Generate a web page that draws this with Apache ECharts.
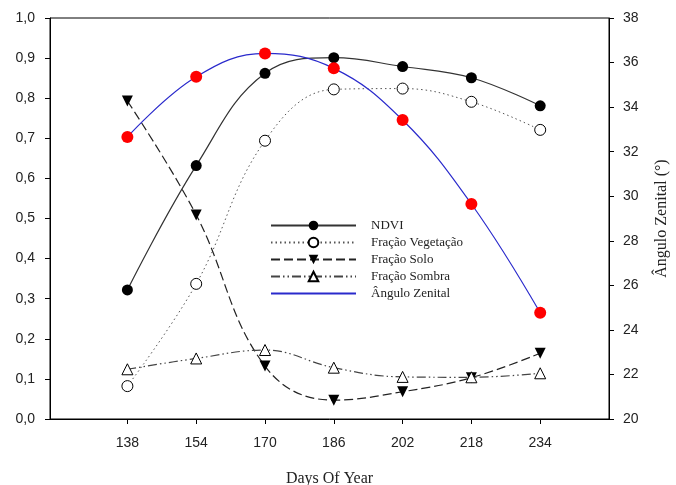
<!DOCTYPE html>
<html>
<head>
<meta charset="utf-8">
<script src="https://cdn.jsdelivr.net/npm/echarts@6/dist/echarts.min.js"></script>
<style>html,body{margin:0;padding:0;background:#fff}#c{width:676px;height:485px}</style>
</head>
<body>
<div id="c"></div>
<script>
var days = [138, 154, 170, 186, 202, 218, 234];
var ndvi = [0.322, 0.632, 0.862, 0.901, 0.879, 0.851, 0.781];
var fracVeg = [0.082, 0.337, 0.694, 0.822, 0.824, 0.791, 0.721];
var fracSolo = [0.793, 0.509, 0.132, 0.047, 0.068, 0.103, 0.164];
var fracSombra = [0.124, 0.151, 0.172, 0.128, 0.105, 0.104, 0.114];
var zenital = [32.66, 35.36, 36.41, 35.74, 33.42, 29.65, 24.77];
var leftTicks = [0, 0.1, 0.2, 0.3, 0.4, 0.5, 0.6, 0.7, 0.8, 0.9, 1.0];
var rightTicks = [20, 22, 24, 26, 28, 30, 32, 34, 36, 38];

function pairs(v) { return days.map(function (d, i) { return [d, v[i]]; }); }

var chart = echarts.init(document.getElementById('c'));
var labelFont = { fontFamily: 'Liberation Sans, Arial, sans-serif', fontSize: 14, color: '#222' };
var serif = 'Liberation Serif, Times New Roman, serif';
chart.setOption({
  animation: false,
  backgroundColor: '#fff',
  grid: { left: 50, right: 67, top: 18, bottom: 66, containLabel: false, outerBoundsMode: 'none',
    show: true, borderColor: '#000', borderWidth: 1, backgroundColor: 'transparent' },
  legend: {
    orient: 'vertical', left: 270, top: 219, padding: 0, itemWidth: 85, itemHeight: 12, itemGap: 4,
    textStyle: { fontFamily: serif, fontSize: 13, color: '#222', padding: [0, 0, 0, 10] },
    data: ['NDVI', 'Fração Vegetação', 'Fração Solo', 'Fração Sombra',
      { name: 'Ângulo Zenital', itemStyle: { opacity: 0 } }]
  },
  xAxis: {
    type: 'value', min: 120, max: 250,
    name: 'Days Of Year', nameLocation: 'middle', nameGap: 52,
    nameTextStyle: { fontFamily: serif, fontSize: 16, color: '#222' },
    axisLine: { lineStyle: { color: '#000' } },
    axisTick: { show: true, customValues: days, length: 5, lineStyle: { color: '#000' } },
    axisLabel: Object.assign({ customValues: days, margin: 17 }, labelFont),
    splitLine: { show: false }
  },
  yAxis: [{
    type: 'value', min: 0, max: 1, interval: 0.1, position: 'left',
    axisLine: { show: true, lineStyle: { color: '#000' } },
    axisTick: { show: true, length: 5, lineStyle: { color: '#000' } },
    axisLabel: Object.assign({ margin: 15, formatter: function (v) { return v.toFixed(1).replace('.', ','); } }, labelFont),
    splitLine: { show: false }
  }, {
    type: 'value', min: 20, max: 38, interval: 2, position: 'right',
    name: 'Ângulo Zenital (°)', nameLocation: 'middle', nameGap: 45, nameRotate: 90,
    nameTextStyle: { fontFamily: serif, fontSize: 16, color: '#222' },
    axisLine: { show: true, lineStyle: { color: '#000' } },
    axisTick: { show: true, length: 5, lineStyle: { color: '#000' } },
    axisLabel: Object.assign({ margin: 14 }, labelFont),
    splitLine: { show: false }
  }],
  series: [{
    name: 'NDVI', type: 'line', smooth: 0.4, data: pairs(ndvi), yAxisIndex: 0,
    symbol: 'circle', symbolSize: 11,
    itemStyle: { color: '#000' }, lineStyle: { color: '#333', width: 1.2 }
  }, {
    name: 'Fração Vegetação', type: 'line', smooth: 0.4, data: pairs(fracVeg), yAxisIndex: 0,
    symbol: 'circle', symbolSize: 11,
    itemStyle: { color: '#fff', borderColor: '#000', borderWidth: 1 },
    lineStyle: { color: '#555', width: 1, type: [1.5, 3] }
  }, {
    name: 'Fração Solo', type: 'line', smooth: 0.4, data: pairs(fracSolo), yAxisIndex: 0,
    symbol: 'triangle', symbolRotate: 180, symbolSize: 11,
    itemStyle: { color: '#000' },
    lineStyle: { color: '#222', width: 1.2, type: [9, 4] }
  }, {
    name: 'Fração Sombra', type: 'line', smooth: 0.4, data: pairs(fracSombra), yAxisIndex: 0,
    symbol: 'triangle', symbolSize: 11,
    itemStyle: { color: '#fff', borderColor: '#000', borderWidth: 1 },
    lineStyle: { color: '#444', width: 1.2, type: [9, 3, 1.5, 3, 1.5, 3] }
  }, {
    name: 'Ângulo Zenital', type: 'line', smooth: 0.4, data: pairs(zenital), yAxisIndex: 1,
    symbol: 'circle', symbolSize: 12, showSymbol: true,
    itemStyle: { color: '#ff0000' },
    lineStyle: { color: '#2a2acc', width: 1.2 }
  }]
});
</script>
</body>
</html>
